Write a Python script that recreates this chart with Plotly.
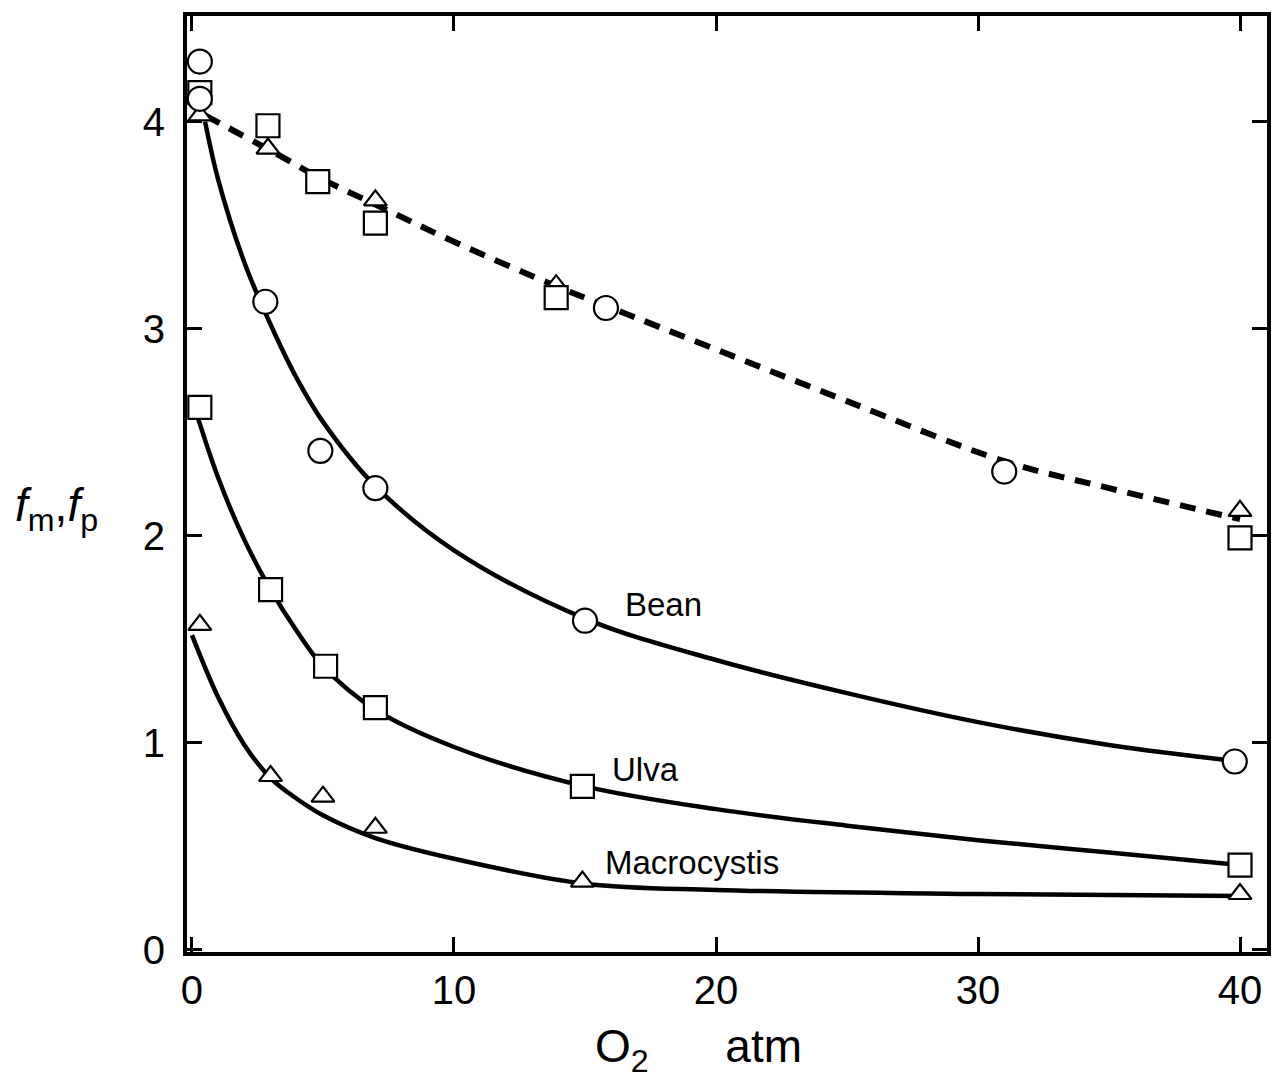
import plotly.graph_objects as go

# ---- data ----
# dashed upper curve (fp) points
fp_curve_x = [0.5, 3, 5, 7, 10, 14, 16, 20, 25, 31, 35, 40]
fp_curve_y = [4.03, 3.86, 3.72, 3.60, 3.42, 3.20, 3.10, 2.90, 2.65, 2.36, 2.23, 2.08]

# Bean (circles)
bean_fm_x = [0.3, 2.8, 4.9, 7.0, 15.0, 39.8]
bean_fm_y = [4.29, 3.13, 2.41, 2.23, 1.59, 0.91]
bean_fp_x = [0.3, 15.8, 31.0]
bean_fp_y = [4.11, 3.10, 2.31]
bean_curve_x = [0.5, 1, 2, 3, 4, 5, 7, 10, 15, 20, 25, 30, 35, 40]
bean_curve_y = [4.0, 3.72, 3.32, 3.02, 2.76, 2.55, 2.24, 1.93, 1.60, 1.40, 1.24, 1.10, 0.99, 0.91]

# Ulva (squares)
ulva_fm_x = [0.3, 3.0, 5.1, 7.0, 14.9, 40.0]
ulva_fm_y = [2.62, 1.74, 1.37, 1.17, 0.79, 0.41]
ulva_fp_x = [0.3, 2.9, 4.8, 7.0, 13.9, 40.0]
ulva_fp_y = [4.14, 3.98, 3.71, 3.51, 3.15, 1.99]
ulva_curve_x = [0.2, 1, 2, 3, 4, 5, 7, 10, 15, 20, 25, 30, 35, 40]
ulva_curve_y = [2.58, 2.28, 1.98, 1.74, 1.54, 1.37, 1.16, 0.98, 0.79, 0.68, 0.60, 0.53, 0.47, 0.41]

# Macrocystis (triangles)
macro_fm_x = [0.3, 3.0, 5.0, 7.0, 14.9, 40.0]
macro_fm_y = [1.57, 0.84, 0.74, 0.59, 0.33, 0.27]
macro_fp_x = [0.3, 2.9, 4.8, 7.0, 13.9, 40.0]
macro_fp_y = [4.03, 3.87, 3.71, 3.62, 3.21, 2.12]
macro_curve_x = [0.0, 1, 2, 3, 4, 5, 7, 10, 15, 20, 30, 40]
macro_curve_y = [1.52, 1.22, 0.99, 0.83, 0.73, 0.65, 0.54, 0.44, 0.32, 0.29, 0.27, 0.26]

labels = ["Bean", "Ulva", "Macrocystis"]
label_x = [18.0, 17.3, 19.1]
label_y = [1.67, 0.87, 0.42]

x_ticks = [0, 10, 20, 30, 40]
y_ticks = [0, 1, 2, 3, 4]

FONT = "Liberation Sans"
fig = go.Figure()

# curves
fig.add_trace(go.Scatter(x=fp_curve_x, y=fp_curve_y, mode="lines",
                         line=dict(color="black", width=6, dash="16px,11px", shape="spline"),
                         showlegend=False))
for cx, cy in [(bean_curve_x, bean_curve_y), (ulva_curve_x, ulva_curve_y), (macro_curve_x, macro_curve_y)]:
    fig.add_trace(go.Scatter(x=cx, y=cy, mode="lines",
                             line=dict(color="black", width=4.5, shape="spline"),
                             showlegend=False))

# markers
def add_markers(xs, ys, symbol, size):
    fig.add_trace(go.Scatter(x=xs, y=ys, mode="markers", cliponaxis=False,
                             marker=dict(symbol=symbol, size=size, color="white",
                                         line=dict(color="black", width=2.2)),
                             showlegend=False))

add_markers(macro_fp_x, macro_fp_y, "triangle-up", 20)
add_markers(ulva_fp_x, ulva_fp_y, "square", 23)
add_markers(bean_fp_x, bean_fp_y, "circle", 24)
add_markers(bean_fm_x, bean_fm_y, "circle", 24)
add_markers(ulva_fm_x, ulva_fm_y, "square", 23)
add_markers(macro_fm_x, macro_fm_y, "triangle-up", 20)

for t, x, y in zip(labels, label_x, label_y):
    fig.add_annotation(x=x, y=y, text=t, showarrow=False, xanchor="center", yanchor="middle",
                       font=dict(family=FONT, size=33, color="black"))

# axis titles
fig.add_annotation(xref="paper", yref="paper", x=-0.121, y=0.474, xanchor="center", yanchor="middle",
                   text="<i>f</i><sub>m</sub>,<i>f</i><sub>p</sub>", showarrow=False,
                   font=dict(family=FONT, size=46, color="black"))
fig.add_annotation(xref="paper", yref="paper", x=0.474, y=-0.104, xanchor="center", yanchor="middle",
                   text="O<sub>2</sub>      atm", showarrow=False,
                   font=dict(family=FONT, size=46, color="black"))

axis_common = dict(showgrid=False, zeroline=False, showline=True, linecolor="black", linewidth=4,
                   mirror="ticks", ticks="inside", ticklen=15, tickwidth=2.5, tickcolor="black",
                   tickfont=dict(family=FONT, size=40, color="black"))

fig.update_xaxes(range=[-0.19, 41.03], tickvals=x_ticks, ticktext=[str(v) for v in x_ticks],
                 ticklabelstandoff=0, **axis_common)
fig.update_yaxes(range=[-0.01, 4.51], tickvals=y_ticks, ticktext=[str(v) for v in y_ticks],
                 ticklabelstandoff=10, **axis_common)

fig.update_layout(width=1283, height=1082, plot_bgcolor="white", paper_bgcolor="white",
                  margin=dict(l=187, r=16, t=12, b=130), showlegend=False)

fig.write_html("out.html")
